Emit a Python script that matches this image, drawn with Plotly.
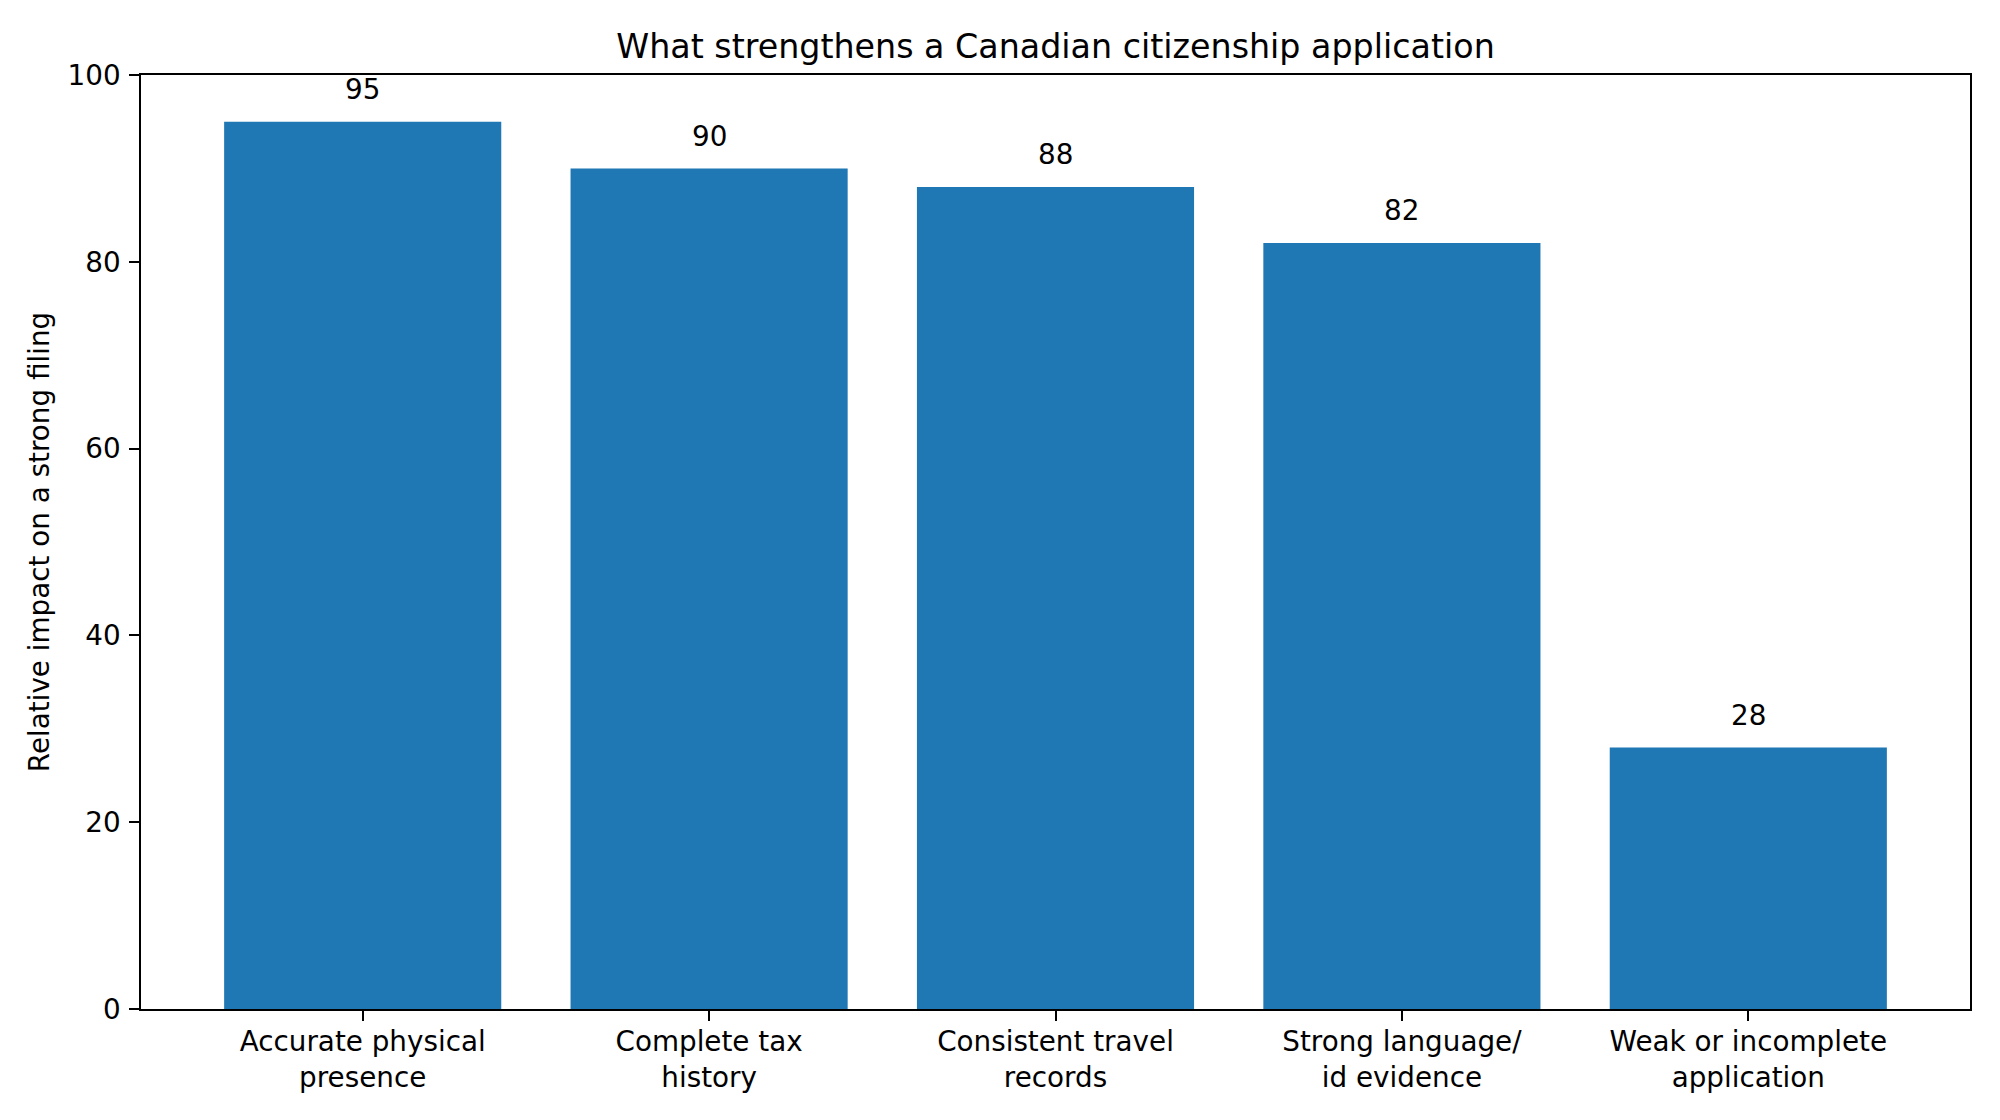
import plotly.graph_objects as go

categories = [
    "Accurate physical<br>presence",
    "Complete tax<br>history",
    "Consistent travel<br>records",
    "Strong language/<br>id evidence",
    "Weak or incomplete<br>application",
]
values = [95, 90, 88, 82, 28]
y_ticks = [0, 20, 40, 60, 80, 100]

FONT = "DejaVu Sans"
BLUE = "#1f77b4"
FS = 27.8

W, H = 1984, 1104  # page body has an 8px margin

x_pos = list(range(len(categories)))

fig = go.Figure()
fig.add_trace(go.Bar(
    x=x_pos, y=values, width=0.8, marker=dict(color=BLUE, line=dict(width=0)),
    hoverinfo="skip",
))

annotations = []
for xi, v in zip(x_pos, values):
    annotations.append(dict(
        x=xi, y=v + 2, xref="x", yref="y", text=str(v), showarrow=False,
        xanchor="center", yanchor="bottom", yshift=-5,
        font=dict(family=FONT, size=FS, color="black"),
    ))

fig.update_layout(
    width=W, height=H,
    margin=dict(l=133, r=22, t=67, b=103, pad=0),
    paper_bgcolor="white", plot_bgcolor="white",
    showlegend=False,
    font=dict(family=FONT, size=FS, color="black"),
    title=dict(
        text="What strengthens a Canadian citizenship application",
        x=(1055.5 - 8) / W, xanchor="center", xref="container",
        y=1 - (46 - 8) / H, yanchor="middle", yref="container",
        font=dict(family=FONT, size=33.3, color="black"),
    ),
    xaxis=dict(
        range=[-0.64, 4.64], tickmode="array", tickvals=x_pos, ticktext=categories,
        showline=True, linecolor="black", linewidth=2.2, mirror=True,
        ticks="outside", ticklen=9.7, tickwidth=2.2, tickcolor="black",
        ticklabelstandoff=-3,
        showgrid=False, zeroline=False, tickfont=dict(family=FONT, size=FS, color="black"),
        fixedrange=True,
    ),
    yaxis=dict(
        range=[0, 100], tickmode="array", tickvals=y_ticks,
        showline=True, linecolor="black", linewidth=2.2, mirror=True,
        ticks="outside", ticklen=9.7, tickwidth=2.2, tickcolor="black",
        ticklabelstandoff=3,
        showgrid=False, zeroline=False, tickfont=dict(family=FONT, size=FS, color="black"),
        title=dict(text="Relative impact on a strong filing", standoff=10,
                   font=dict(family=FONT, size=FS, color="black")),
        fixedrange=True,
    ),
    annotations=annotations,
)

fig.write_html("out.html")
